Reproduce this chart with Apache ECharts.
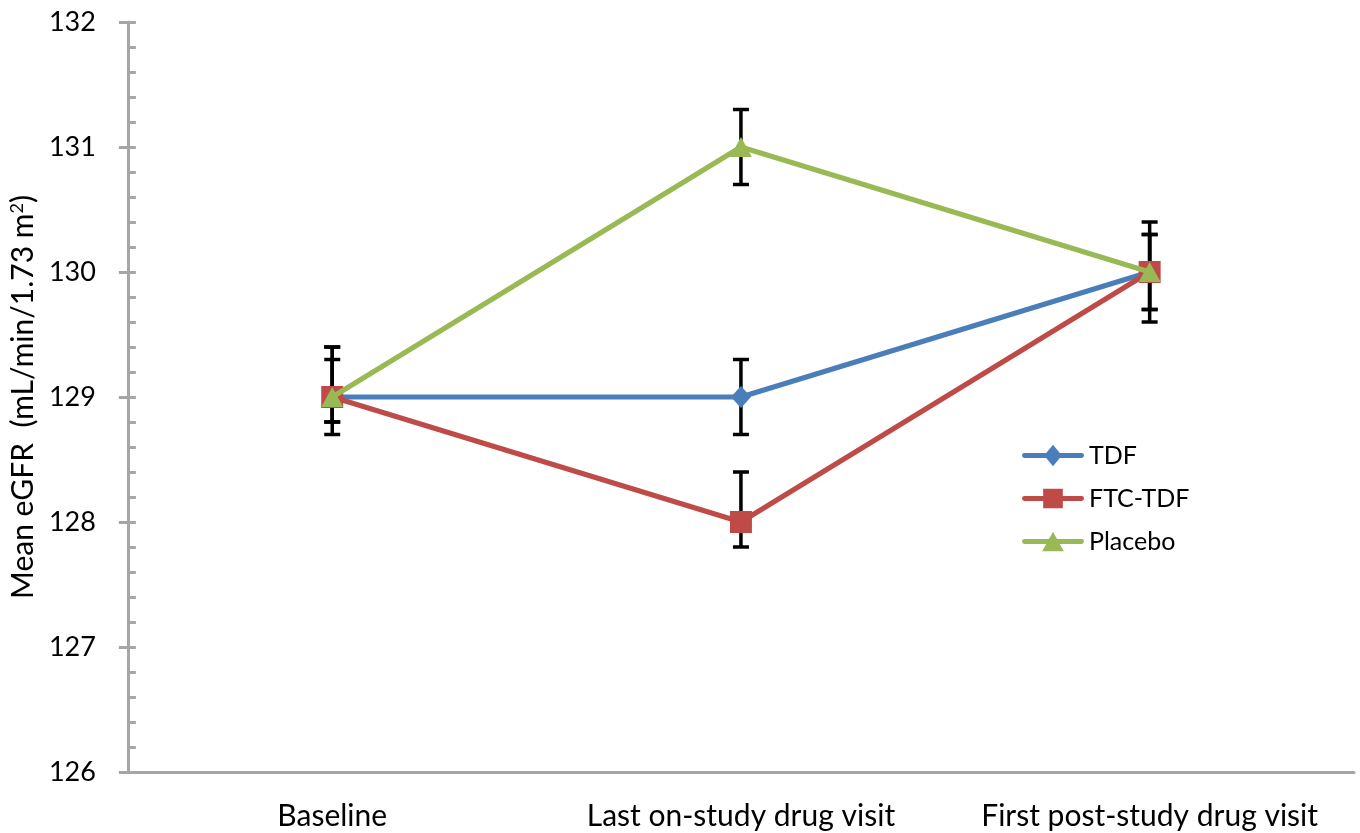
<!DOCTYPE html>
<html><head><meta charset="utf-8">
<script src="https://cdn.jsdelivr.net/npm/echarts@6/dist/echarts.min.js"></script>
<style>html,body{margin:0;padding:0;background:#fff}#c{width:1360px;height:833px}</style>
</head><body><div id="c"></div>
<script>
const categories = ['Baseline', 'Last on-study drug visit', 'First post-study drug visit'];
const tdf = [129, 129, 130];
const ftcTdf = [129, 128, 130];
const placebo = [129, 131, 130];
// error bar [low, high]
const tdfErr = [[128.7, 129.3], [128.7, 129.3], [129.7, 130.3]];
const ftcErr = [[128.8, 129.4], [127.8, 128.4], [129.6, 130.4]];
const placeboErr = [[128.8, 129.4], [130.7, 131.3], [129.7, 130.3]];
const yTicks = [126, 127, 128, 129, 130, 131, 132];

const FONT = 'Lato';
const errData = [];
[tdfErr, ftcErr, placeboErr].forEach(arr => arr.forEach((e, i) => errData.push([i, e[0], e[1]])));

function renderErr(params, api) {
  const x = api.value(0);
  const lo = api.coord([x, api.value(1)]);
  const hi = api.coord([x, api.value(2)]);
  const hw = 8;
  const st = { stroke: '#000', lineWidth: 3.5 };
  return { type: 'group', children: [
    { type: 'line', shape: { x1: lo[0], y1: lo[1], x2: hi[0], y2: hi[1] }, style: st },
    { type: 'line', shape: { x1: lo[0] - hw, y1: lo[1], x2: lo[0] + hw, y2: lo[1] }, style: st },
    { type: 'line', shape: { x1: hi[0] - hw, y1: hi[1], x2: hi[0] + hw, y2: hi[1] }, style: st }
  ]};
}

// legend icons: thick line with centred marker (62 x 22 box)
const bar = 'M2 8.5 L60 8.5 A2.5 2.5 0 0 1 60 13.5 L2 13.5 A2.5 2.5 0 0 1 2 8.5 Z ';
const iconDiamond = 'path://' + bar + 'M31 0 L40 11 L31 22 L22 11 Z';
const iconRect = 'path://' + bar + 'M21 1 L41 1 L41 21 L21 21 Z';
const iconTri = 'path://' + bar + 'M31 1 L42 21 L20 21 Z';

const chart = echarts.init(document.getElementById('c'), null, { renderer: 'canvas' });
const axisGray = '#A6A6A6';
chart.setOption({
  animation: false,
  textStyle: { fontFamily: FONT },
  grid: { left: 124, right: 6, top: 22, bottom: 61 },
  legend: {
    orient: 'vertical', left: 1022, top: 443, padding: 0, itemWidth: 62, itemHeight: 22, itemGap: 18,
    textStyle: { fontFamily: FONT, fontSize: 25, color: '#000' },
    data: [
      { name: 'TDF', icon: iconDiamond },
      { name: 'FTC-TDF', icon: iconRect },
      { name: 'Placebo', icon: iconTri }
    ]
  },
  xAxis: {
    type: 'category', data: categories, boundaryGap: true,
    axisLine: { lineStyle: { color: axisGray, width: 3 } },
    axisTick: { show: false },
    axisLabel: { fontFamily: FONT, fontSize: 30, color: '#000', margin: 29, interval: 0 }
  },
  yAxis: [{
    type: 'value', min: 126, max: 132, interval: 1, position: 'left',
    name: '{a|Mean eGFR  (mL/min/1.73 m}{s|2}{a|)}',
    nameLocation: 'middle', nameGap: 89, nameRotate: 90,
    nameTextStyle: { rich: {
      a: { fontFamily: FONT, fontSize: 30, color: '#000' },
      s: { fontFamily: FONT, fontSize: 18, color: '#000', verticalAlign: 'top', padding: [0, 0, 12, 0] }
    } },
    axisLine: { show: true, lineStyle: { color: axisGray, width: 3 } },
    axisTick: { show: true, length: 9, lineStyle: { color: axisGray, width: 3 } },
    minorTick: { show: false },
    splitLine: { show: false },
    axisLabel: { fontFamily: FONT, fontSize: 27, color: '#000', margin: 32,
      formatter: v => yTicks.includes(v) ? String(v) : '' }
  }, {
    type: 'value', min: 126, max: 132, interval: 1, position: 'left',
    axisLine: { show: false },
    axisTick: { show: true, inside: true, length: 8, lineStyle: { color: axisGray, width: 3 } },
    minorTick: { show: true, splitNumber: 5, length: 8, lineStyle: { color: axisGray, width: 3 } },
    splitLine: { show: false },
    axisLabel: { show: false }
  }],
  series: [
    { type: 'custom', name: 'err', renderItem: renderErr, data: errData, z: 1,
      encode: { x: 0, y: [1, 2] }, silent: true },
    { type: 'line', name: 'TDF', data: tdf, z: 3, symbol: 'diamond', symbolSize: [20, 22],
      lineStyle: { color: '#4A7EBB', width: 5 }, itemStyle: { color: '#4A7EBB' } },
    { type: 'line', name: 'FTC-TDF', data: ftcTdf, z: 4, symbol: 'rect', symbolSize: 22,
      lineStyle: { color: '#BE4B48', width: 5 }, itemStyle: { color: '#BE4B48' } },
    { type: 'line', name: 'Placebo', data: placebo, z: 5, symbol: 'triangle', symbolSize: [22, 20],
      lineStyle: { color: '#98B954', width: 5 }, itemStyle: { color: '#98B954' } }
  ]
});
</script></body></html>
